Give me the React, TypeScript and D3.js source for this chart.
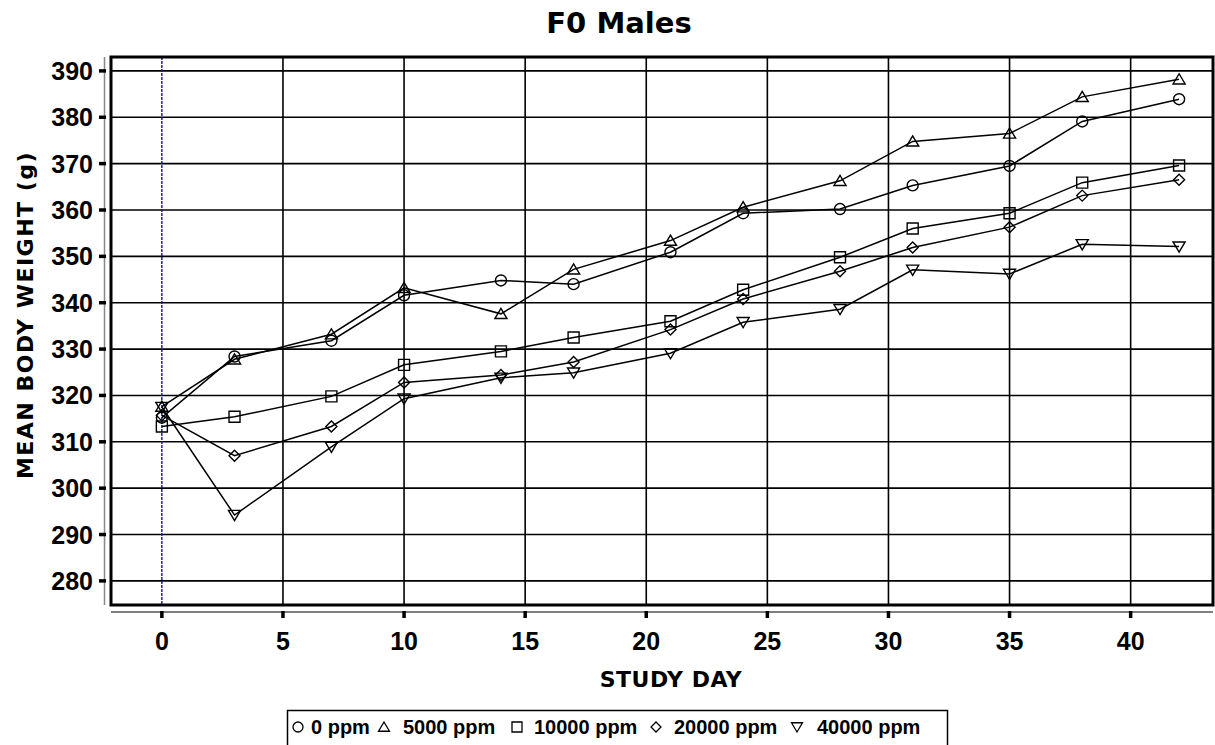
import React from "react";
import * as d3 from "d3";

const days = [0, 3, 7, 10, 14, 17, 21, 24, 28, 31, 35, 38, 42];
const ppm0 = [315.2, 328.4, 331.8, 341.6, 344.8, 344.0, 350.9, 359.3, 360.2, 365.3, 369.5, 379.1, 383.9];
const ppm5000 = [317.6, 327.8, 333.2, 343.2, 337.6, 347.2, 353.4, 360.6, 366.3, 374.8, 376.5, 384.4, 388.2];
const ppm10000 = [313.3, 315.4, 319.8, 326.6, 329.5, 332.5, 336.0, 342.8, 349.8, 356.0, 359.3, 365.9, 369.6];
const ppm20000 = [315.7, 307.0, 313.3, 322.8, 324.4, 327.2, 334.2, 340.8, 346.8, 351.9, 356.3, 363.1, 366.5];
const ppm40000 = [317.5, 294.2, 308.9, 319.3, 323.8, 324.9, 329.1, 335.8, 338.6, 347.1, 346.2, 352.6, 352.1];

const seriesNames = ["0 ppm", "5000 ppm", "10000 ppm", "20000 ppm", "40000 ppm"];
const seriesValues = [ppm0, ppm5000, ppm10000, ppm20000, ppm40000];
const seriesSymbols = ["circle", "triangle", "square", "diamond", "invtriangle"];

const xTicks = [0, 5, 10, 15, 20, 25, 30, 35, 40];
const yTicks = [280, 290, 300, 310, 320, 330, 340, 350, 360, 370, 380, 390];

function markerPath(kind: string, s: number): string {
  const h = s / 2;
  switch (kind) {
    case "circle": {
      const p = d3.path();
      p.arc(0, 0, h, 0, Math.PI * 2);
      p.closePath();
      return p.toString();
    }
    case "square":
      return `M${-h},${-h}L${h},${-h}L${h},${h}L${-h},${h}Z`;
    case "diamond":
      return `M0,${-h}L${h},0L0,${h}L${-h},0Z`;
    case "triangle":
      return `M0,${-h}L${h * 1.1},${h * 0.85}L${-h * 1.1},${h * 0.85}Z`;
    case "invtriangle":
      return `M0,${h}L${h * 1.1},${-h * 0.85}L${-h * 1.1},${-h * 0.85}Z`;
  }
  return "";
}

export default function App() {
  const W = 1215;
  const H = 745;
  const L = 111, R = 1213, T = 57, B = 605;
  const x = d3.scaleLinear().domain([-2.1, 43.4]).range([L, R]);
  const y = d3.scaleLinear().domain([274.8, 393.0]).range([B, T]);
  const line = d3
    .line<[number, number]>()
    .x((d) => x(d[0]))
    .y((d) => y(d[1]));

  const sans = "'Liberation Sans', Arial, sans-serif";
  const dejavu = "'DejaVu Sans', Verdana, sans-serif";
  const legendSym = [298, 384, 517, 656, 797];
  const legendTxt = [311, 403, 534, 674, 817];

  return (
    <svg
      width={W}
      height={H}
      style={{ position: "absolute", left: 0, top: 0, background: "#fff" }}
    >
      <rect x={0} y={0} width={W} height={H} fill="#fff" />
      <text x={619} y={33} textAnchor="middle" fontFamily={dejavu} fontWeight="bold" fontSize={29}>
        F0 Males
      </text>

      {/* horizontal gridlines */}
      {yTicks.map((t) => (
        <line key={"hy" + t} x1={L} x2={R} y1={y(t)} y2={y(t)} stroke="#000" strokeWidth={1.6} />
      ))}
      {/* vertical gridlines */}
      {xTicks.map((t) =>
        t === 0 ? (
          <line
            key={"vx" + t}
            x1={x(t)}
            x2={x(t)}
            y1={T}
            y2={B}
            stroke="#14148c"
            strokeWidth={1.4}
            strokeDasharray="3,1"
          />
        ) : (
          <line key={"vx" + t} x1={x(t)} x2={x(t)} y1={T} y2={B} stroke="#000" strokeWidth={1.6} />
        )
      )}

      {/* series lines */}
      {seriesValues.map((vals, i) => (
        <path
          key={"l" + i}
          d={line(days.map((d, j) => [d, vals[j]] as [number, number])) || ""}
          fill="none"
          stroke="#000"
          strokeWidth={1.5}
        />
      ))}
      {/* markers */}
      {seriesValues.map((vals, i) =>
        days.map((d, j) => (
          <path
            key={"m" + i + "-" + j}
            transform={`translate(${x(d)},${y(vals[j])})`}
            d={markerPath(seriesSymbols[i], 11)}
            fill="none"
            stroke="#000"
            strokeWidth={1.4}
          />
        ))
      )}

      {/* frame */}
      <rect x={L} y={T} width={R - L} height={B - T} fill="none" stroke="#000" strokeWidth={3} />

      {/* y axis */}
      <line x1={104.5} x2={104.5} y1={T} y2={B} stroke="#888" strokeWidth={1.5} />
      {yTicks.map((t) => (
        <g key={"yt" + t}>
          <line x1={99} x2={106} y1={y(t)} y2={y(t)} stroke="#000" strokeWidth={3.5} />
          <text x={93} y={y(t) + 9} textAnchor="end" fontFamily={sans} fontWeight="bold" fontSize={25}>
            {t}
          </text>
        </g>
      ))}
      {/* x axis */}
      <line x1={L} x2={R} y1={612} y2={612} stroke="#555" strokeWidth={1.5} />
      {xTicks.map((t) => (
        <g key={"xt" + t}>
          <line x1={x(t)} x2={x(t)} y1={611} y2={618} stroke="#000" strokeWidth={3.5} />
          <text x={x(t)} y={650} textAnchor="middle" fontFamily={sans} fontWeight="bold" fontSize={25}>
            {t}
          </text>
        </g>
      ))}

      <text
        x={671}
        y={687}
        textAnchor="middle"
        fontFamily={dejavu}
        fontWeight="bold"
        fontSize={22}
        letterSpacing={0.5}
      >
        STUDY DAY
      </text>
      <text
        transform={`translate(33,${315}) rotate(-90)`}
        textAnchor="middle"
        fontFamily={dejavu}
        fontWeight="bold"
        fontSize={22}
        letterSpacing={1.5}
      >
        MEAN BODY WEIGHT (g)
      </text>

      {/* legend */}
      <rect x={287.5} y={710.5} width={660} height={40} fill="none" stroke="#000" strokeWidth={1.5} />
      {seriesNames.map((n, i) => (
        <g key={"lg" + i}>
          <path
            transform={`translate(${legendSym[i]},${727})`}
            d={markerPath(seriesSymbols[i], 10)}
            fill="none"
            stroke="#000"
            strokeWidth={1.3}
          />
          <text x={legendTxt[i]} y={734} fontFamily={sans} fontWeight="bold" fontSize={20}>
            {n}
          </text>
        </g>
      ))}
    </svg>
  );
}
